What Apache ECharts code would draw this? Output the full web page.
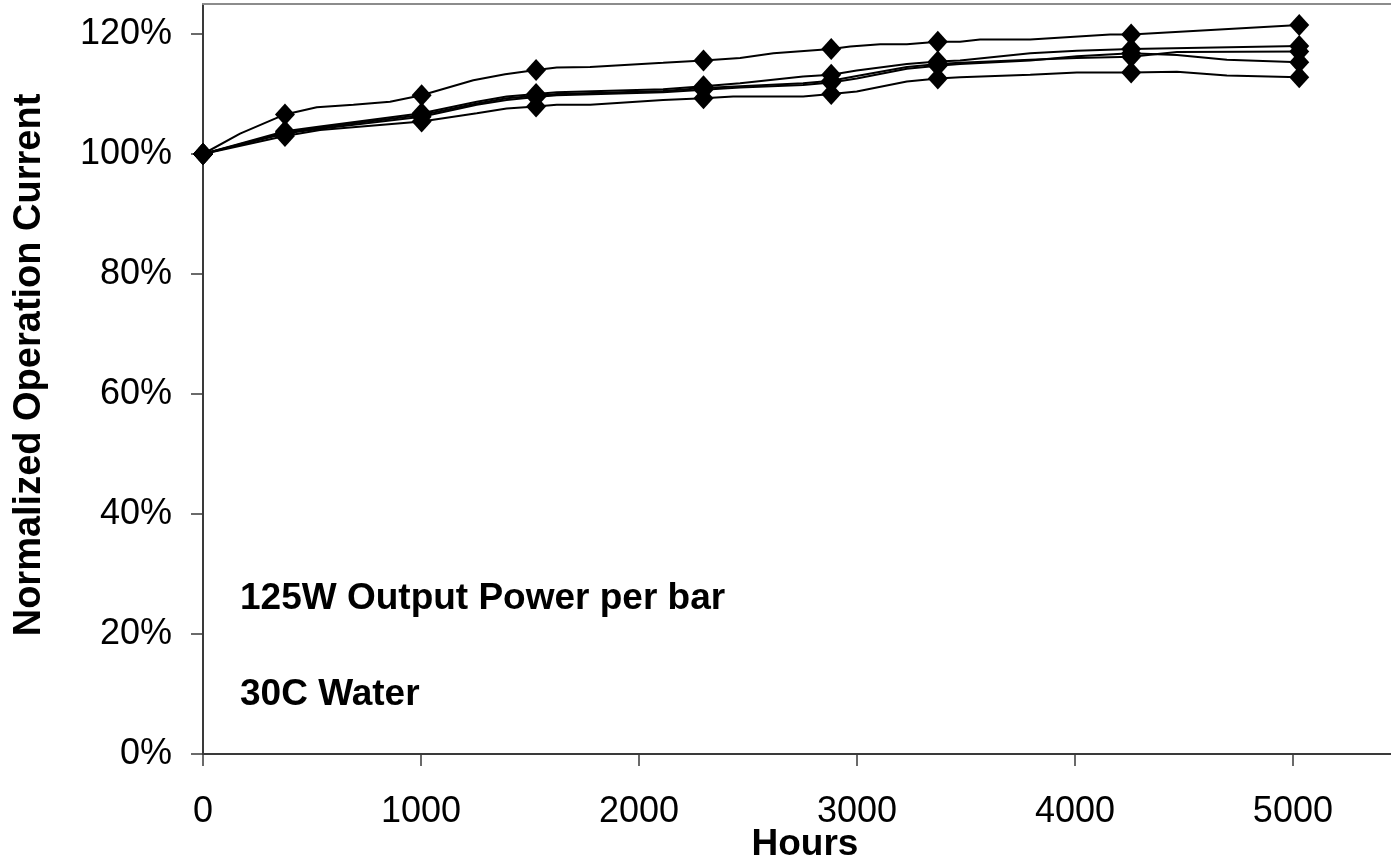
<!DOCTYPE html>
<html>
<head>
<meta charset="utf-8">
<script src="https://cdn.jsdelivr.net/npm/echarts@6/dist/echarts.min.js"></script>
<style>
html,body{margin:0;padding:0;background:#fff;}
#chart{width:1391px;height:863px;}
</style>
</head>
<body>
<div id="chart"></div>
<script>
// ---- data ----
var markerHours = [0, 376, 1003, 1528, 2296, 2882, 3371, 4258, 5029];
var xTickValues = [0, 1000, 2000, 3000, 4000, 5000];
var yTickValues = [0, 20, 40, 60, 80, 100, 120];

var seriesA = [[0,100],[170,103.4],[376,106.6],[522,107.8],[690,108.2],[858,108.7],[1003,109.8],[1240,112.3],[1386,113.3],[1528,114.0],[1623,114.4],[1776,114.5],[2111,115.2],[2296,115.6],[2464,116.0],[2617,116.8],[2882,117.5],[2969,117.9],[3107,118.3],[3229,118.3],[3371,118.7],[3473,118.7],[3565,119.1],[3795,119.1],[4162,119.9],[4258,119.9],[5029,121.5]];
var seriesB = [[0,100],[376,103.8],[537,104.6],[1003,106.8],[1256,108.7],[1393,109.6],[1528,110.0],[1623,110.3],[2111,110.8],[2296,111.3],[2464,111.8],[2753,112.9],[2882,113.2],[2999,113.9],[3229,115.0],[3371,115.4],[3473,115.6],[3795,116.8],[4009,117.2],[4258,117.5],[5029,118.0]];
var seriesC = [[0,100],[376,103.6],[537,104.4],[1003,106.5],[1256,108.4],[1393,109.3],[1528,109.7],[1623,110.0],[2111,110.5],[2296,111.0],[2464,111.3],[2753,111.8],[2882,112.2],[2999,113.0],[3229,114.5],[3371,115.0],[3473,115.2],[3795,115.7],[4009,116.0],[4258,116.2],[4468,117.0],[5029,117.1]];
var seriesD = [[0,100],[376,103.4],[537,104.2],[1003,106.2],[1256,108.2],[1393,109.0],[1528,109.5],[1623,109.8],[2111,110.3],[2296,110.7],[2464,111.1],[2753,111.5],[2882,111.9],[2999,112.6],[3229,114.2],[3371,114.7],[3473,115.0],[3795,115.6],[4009,116.3],[4258,116.8],[4468,116.5],[4697,115.7],[5029,115.3]];
var seriesE = [[0,100],[376,103.0],[537,104.0],[1003,105.4],[1256,106.8],[1393,107.6],[1528,107.9],[1623,108.2],[1776,108.2],[2111,109.0],[2296,109.3],[2432,109.6],[2753,109.6],[2882,110.0],[2999,110.4],[3229,112.1],[3371,112.6],[3473,112.8],[3795,113.2],[4009,113.6],[4258,113.6],[4468,113.7],[4697,113.1],[5029,112.8]];

var xTitle = 'Hours';
var yTitle = 'Normalized Operation Current';
var note1 = '125W Output Power per bar';
var note2 = '30C Water';

// ---- chart ----
var FONT = '"Liberation Sans", Arial, sans-serif';
function build(arr) {
  return arr.map(function (p) {
    var isMarker = markerHours.indexOf(p[0]) >= 0;
    return { value: p, symbol: isMarker ? 'diamond' : 'none' };
  });
}
function lineSeries(name, arr) {
  return {
    name: name,
    type: 'line',
    data: build(arr),
    symbolSize: [20, 22],
    showAllSymbol: true,
    lineStyle: { color: '#000', width: 2 },
    itemStyle: { color: '#000' },
    animation: false,
    clip: false,
    z: 3
  };
}

var chart = echarts.init(document.getElementById('chart'), null, { renderer: 'canvas' });
chart.setOption({
  backgroundColor: '#fff',
  animation: false,
  grid: {
    left: 203, top: 4, right: 0, bottom: 109,
    outerBoundsMode: 'none',
    containLabel: false,
    show: false
  },
  xAxis: [{
    type: 'value', min: 0, max: 5450, interval: 1000,
    splitLine: { show: false },
    axisLine: { show: true, onZero: false, lineStyle: { color: '#3a3a3a', width: 2 } },
    axisTick: { show: true, inside: false, length: 12, customValues: xTickValues, lineStyle: { color: '#3a3a3a', width: 1.5 } },
    axisLabel: { customValues: xTickValues, margin: 40, color: '#000', fontFamily: FONT, fontSize: 36,
      formatter: function (v) { return String(v); } },
    name: xTitle, nameLocation: 'middle', nameGap: 72, nameMoveOverlap: false,
    nameTextStyle: { color: '#000', fontFamily: FONT, fontSize: 37, fontWeight: 'bold', padding: [0, 0, 0, 16] }
  }, {
    type: 'value', position: 'top', min: 0, max: 5450,
    splitLine: { show: false },
    axisLine: { show: true, onZero: false, lineStyle: { color: '#8c8c8c', width: 2 } },
    axisTick: { show: false },
    axisLabel: { show: false }
  }],
  yAxis: {
    type: 'value', min: 0, max: 125, interval: 20,
    splitLine: { show: false },
    axisLine: { show: true, onZero: false, lineStyle: { color: '#3a3a3a', width: 2 } },
    axisTick: { show: true, inside: false, length: 12, customValues: yTickValues, lineStyle: { color: '#3a3a3a', width: 1.5 } },
    axisLabel: { customValues: yTickValues, margin: 31, color: '#000', fontFamily: FONT, fontSize: 36,
      formatter: function (v) { return v + '%'; } },
    name: yTitle, nameLocation: 'middle', nameGap: 154, nameRotate: 90, nameMoveOverlap: false,
    nameTextStyle: { color: '#000', fontFamily: FONT, fontSize: 38, fontWeight: 'bold', padding: [0, 0, 0, 28] }
  },
  graphic: [
    { type: 'text', x: 240, y: 599, style: { text: note1, fill: '#000', verticalAlign: 'middle', font: 'bold 37px "Liberation Sans", Arial, sans-serif' } },
    { type: 'text', x: 240, y: 695, style: { text: note2, fill: '#000', verticalAlign: 'middle', font: 'bold 37px "Liberation Sans", Arial, sans-serif' } }
  ],
  series: [
    lineSeries('A', seriesA),
    lineSeries('B', seriesB),
    lineSeries('C', seriesC),
    lineSeries('D', seriesD),
    lineSeries('E', seriesE)
  ]
});
</script>
</body>
</html>
